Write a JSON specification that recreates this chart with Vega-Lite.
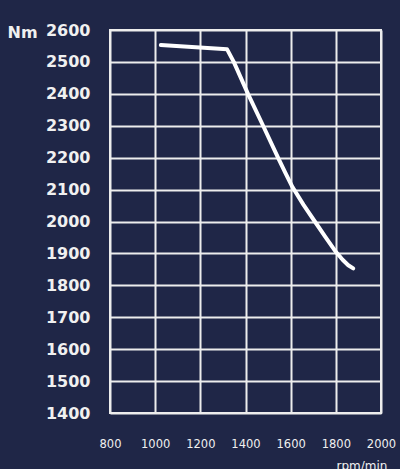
{
  "$schema": "https://vega.github.io/schema/vega-lite/v6.json",
  "autosize": "none",
  "width": 271,
  "height": 383,
  "padding": {"left": 110, "top": 30, "right": 19, "bottom": 56},
  "background": "#1f2647",
  "title": {
    "text": "Hp",
    "orient": "right",
    "anchor": "start",
    "angle": 0,
    "align": "left",
    "baseline": "top",
    "offset": 14,
    "dy": -8,
    "font": "DejaVu Sans",
    "fontSize": 16,
    "fontWeight": "bold",
    "color": "#f0f0f0"
  },
  "config": {
    "view": {"stroke": "#ededed", "strokeWidth": 2},
    "axis": {
      "grid": true,
      "gridColor": "#ededed",
      "gridWidth": 2,
      "gridOpacity": 1,
      "domain": false,
      "ticks": false,
      "labelColor": "#f0f0f0",
      "titleColor": "#f0f0f0",
      "labelFont": "DejaVu Sans",
      "titleFont": "DejaVu Sans"
    }
  },
  "data": {
    "values": [
      {"rpm": 1025, "nm": 2553},
      {"rpm": 1318, "nm": 2540},
      {"rpm": 1348, "nm": 2500},
      {"rpm": 1411, "nm": 2400},
      {"rpm": 1478, "nm": 2300},
      {"rpm": 1544, "nm": 2200},
      {"rpm": 1576, "nm": 2153},
      {"rpm": 1608, "nm": 2108},
      {"rpm": 1657, "nm": 2052},
      {"rpm": 1707, "nm": 2000},
      {"rpm": 1755, "nm": 1950},
      {"rpm": 1800, "nm": 1905},
      {"rpm": 1830, "nm": 1880},
      {"rpm": 1855, "nm": 1863},
      {"rpm": 1877, "nm": 1853}
    ]
  },
  "mark": {"type": "line", "color": "#ffffff", "strokeWidth": 4, "strokeCap": "round", "strokeJoin": "round", "interpolate": "linear"},
  "encoding": {
    "x": {
      "field": "rpm",
      "type": "quantitative",
      "scale": {"domain": [800, 2000], "nice": false},
      "axis": {
        "values": [800, 1000, 1200, 1400, 1600, 1800, 2000],
        "labelFlush": false,
        "labelOverlap": false,
        "labelFontSize": 11.5,
        "labelPadding": 25,
        "labelBaseline": "top",
        "format": "d",
        "title": "rpm/min",
        "titleFontSize": 12,
        "titleFontWeight": "normal",
        "titleAnchor": "start",
        "titleAlign": "left",
        "titleBaseline": "alphabetic",
        "titleX": 226,
        "titleY": 56
      }
    },
    "y": {
      "field": "nm",
      "type": "quantitative",
      "scale": {"domain": [1400, 2600], "nice": false, "zero": false},
      "axis": {
        "values": [1400, 1500, 1600, 1700, 1800, 1900, 2000, 2100, 2200, 2300, 2400, 2500, 2600],
        "labelFlush": false,
        "labelOverlap": false,
        "labelFontSize": 16,
        "labelFontWeight": "bold",
        "labelPadding": 20,
        "labelBaseline": "middle",
        "format": "d",
        "title": "Nm",
        "titleFontSize": 16,
        "titleFontWeight": "bold",
        "titleAngle": 0,
        "titleAlign": "left",
        "titleBaseline": "middle",
        "titleX": -103,
        "titleY": 2
      }
    }
  }
}
